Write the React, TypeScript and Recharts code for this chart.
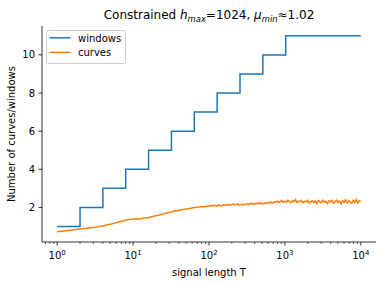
import React from "react";
import { LineChart, Line, XAxis, YAxis, Legend } from "recharts";

const T_WINDOWS = [1, 2, 4, 8, 16, 32, 64, 128, 256, 512, 1024, 10000];
const WINDOWS = [1, 2, 3, 4, 5, 6, 7, 8, 9, 10, 11, 11];

const T_CURVES = [
  1, 2, 3, 4, 5, 6, 7, 8, 9, 10, 11, 12, 13, 14, 16, 18, 20, 22, 25, 28, 31, 35, 39, 43, 48, 53, 58, 64, 70, 77, 85, 93,
  100, 105, 110, 115, 120, 126, 132, 138, 145, 151, 158, 166, 174, 182, 191, 200, 209, 219, 229, 240, 251, 263, 275, 288,
  302, 316, 331, 347, 363, 380, 398, 417, 437, 457, 479, 501, 525, 550, 575, 603, 631, 661, 692, 724, 759, 794, 832, 871,
  912, 955, 1000, 1047, 1096, 1148, 1202, 1259, 1318, 1380, 1445, 1514, 1585, 1660, 1738, 1820, 1905, 1995, 2089, 2188,
  2291, 2399, 2512, 2630, 2754, 2884, 3020, 3162, 3311, 3467, 3631, 3802, 3981, 4169, 4365, 4571, 4786, 5012, 5248, 5495,
  5754, 6026, 6310, 6607, 6918, 7244, 7586, 7943, 8318, 8710, 9120, 9550, 10000,
];
const CURVES = [
  0.72, 0.87, 0.94, 1.03, 1.12, 1.2, 1.27, 1.33, 1.36, 1.39, 1.4, 1.39, 1.42, 1.44, 1.47, 1.52, 1.56, 1.6, 1.66, 1.71, 1.75,
  1.81, 1.84, 1.88, 1.9, 1.93, 1.96, 1.99, 2.01, 2.04, 2.03, 2.06,
  2.06, 2.11, 2.07, 2.12, 2.09, 2.05, 2.13, 2.1, 2.08, 2.14, 2.1,
  2.15, 2.11, 2.17, 2.12, 2.16, 2.19, 2.13, 2.15, 2.18, 2.12,
  2.14, 2.17, 2.12, 2.16, 2.2, 2.15, 2.19, 2.22, 2.16, 2.21,
  2.18, 2.23, 2.19, 2.25, 2.2, 2.17, 2.24, 2.21, 2.27, 2.2,
  2.28, 2.23, 2.3, 2.26, 2.33, 2.25, 2.31, 2.36, 2.27, 2.33,
  2.27, 2.38, 2.3, 2.25, 2.36, 2.31, 2.4, 2.26, 2.34, 2.29,
  2.37, 2.24, 2.33, 2.28, 2.38, 2.22, 2.31, 2.35, 2.25, 2.34,
  2.21, 2.36, 2.29, 2.24, 2.38, 2.27, 2.32, 2.2, 2.35, 2.28,
  2.37, 2.22, 2.3, 2.39, 2.25, 2.33, 2.2, 2.36, 2.27, 2.4,
  2.23, 2.34, 2.28, 2.21, 2.38, 2.26, 2.41, 2.22, 2.35, 2.3,
];

const X_TICKS = [
  0.7, 0.8, 0.9, 1, 2, 3, 4, 5, 6, 7, 8, 9, 10, 20, 30, 40, 50, 60, 70, 80, 90, 100, 200, 300, 400, 500, 600, 700, 800, 900,
  1000, 2000, 3000, 4000, 5000, 6000, 7000, 8000, 9000, 10000,
];
const X_MAJOR = [1, 10, 100, 1000, 10000];
const Y_TICKS = [2, 4, 6, 8, 10];
const LEGEND_ORDER = ["windows", "curves"];

const X_DOMAIN = [Math.pow(10, -0.2), Math.pow(10, 4.2)];
const Y_DOMAIN = [0.185, 11.515];

const BLUE = "#1f77b4";
const ORANGE = "#ff7f0e";
const FONT = "DejaVu Sans";

const windowsData = T_WINDOWS.map((t, i) => ({ T: t, windows: WINDOWS[i] }));
const curvesData = T_CURVES.map((t, i) => ({ T: t, curves: CURVES[i] }));

const XTick = (props: any) => {
  const { x, y, payload } = props;
  const v = payload.value;
  const idx = X_MAJOR.indexOf(v);
  const major = idx >= 0;
  return (
    <g>
      <line x1={x} x2={x} y1={y} y2={y + (major ? 3.5 : 2)} stroke="#000" strokeWidth={major ? 0.8 : 0.6} />
      {major && (
        <text x={x} y={y + 17} textAnchor="middle" fontSize={10} fontFamily={FONT} fill="#000">
          <tspan>10</tspan>
          <tspan dy={-4} fontSize={7}>{String(idx)}</tspan>
        </text>
      )}
    </g>
  );
};

const renderLegend = (props: any) => {
  const payload = [...(props.payload || [])].sort(
    (a: any, b: any) => LEGEND_ORDER.indexOf(a.value) - LEGEND_ORDER.indexOf(b.value)
  );
  return (
    <svg width={80} height={34} style={{ display: "block" }}>
      <rect x={0.5} y={0.5} width={79} height={33} rx={2} ry={2} fill="rgba(255,255,255,0.8)" stroke="#cccccc" strokeWidth={1} />
      {payload.map((p: any, i: number) => (
        <g key={i}>
          <line x1={3.5} x2={24.5} y1={7.8 + i * 14.6} y2={7.8 + i * 14.6} stroke={p.color} strokeWidth={1.5} />
          <text x={32} y={11.6 + i * 14.8} fontSize={10} fontFamily={FONT} fill="#000">
            {p.value}
          </text>
        </g>
      ))}
    </svg>
  );
};

const YLabel = (props: any) => {
  const vb = props.viewBox || { x: 0, y: 26, width: 42, height: 216 };
  const cx = vb.x + 15;
  const cy = vb.y + vb.height / 2;
  return (
    <text x={cx} y={cy} transform={`rotate(-90 ${cx} ${cy})`} textAnchor="middle" fontSize={10} fontFamily={FONT} fill="#000">
      Number of curves/windows
    </text>
  );
};

const XLabel = (props: any) => {
  const vb = props.viewBox || { x: 42, y: 242, width: 334, height: 42 };
  return (
    <text x={vb.x + vb.width / 2} y={vb.y + 34} textAnchor="middle" fontSize={10} fontFamily={FONT} fill="#000">
      signal length T
    </text>
  );
};

export default function App() {
  return (
    <div style={{ position: "absolute", left: 0, top: 0, width: 382, height: 284, background: "#fff" }}>
      <LineChart width={382} height={284} margin={{ top: 26, right: 6, left: 0, bottom: 0 }}>
        <XAxis
          dataKey="T"
          type="number"
          scale="log"
          domain={X_DOMAIN}
          allowDataOverflow
          ticks={X_TICKS}
          interval={0}
          tick={<XTick />}
          tickLine={false}
          tickSize={0}
          tickMargin={0}
          height={42}
          axisLine={{ stroke: "#000", strokeWidth: 0.8 }}
          label={{ content: <XLabel /> }}
        />
        <XAxis
          xAxisId="top"
          orientation="top"
          type="number"
          scale="log"
          domain={X_DOMAIN}
          allowDataOverflow
          tick={false}
          tickLine={false}
          height={0}
          axisLine={{ stroke: "#000", strokeWidth: 0.8 }}
        />
        <YAxis
          type="number"
          domain={Y_DOMAIN}
          allowDataOverflow
          ticks={Y_TICKS}
          interval={0}
          width={42}
          tickSize={3.5}
          tickMargin={3.5}
          tick={{ fontSize: 10, fontFamily: FONT, fill: "#000" }}
          tickLine={{ stroke: "#000", strokeWidth: 0.8 }}
          axisLine={{ stroke: "#000", strokeWidth: 0.8 }}
          label={{ content: <YLabel /> }}
        />
        <YAxis
          yAxisId="right"
          orientation="right"
          type="number"
          domain={Y_DOMAIN}
          allowDataOverflow
          tick={false}
          tickLine={false}
          width={0}
          axisLine={{ stroke: "#000", strokeWidth: 0.8 }}
        />
        <Line
          data={windowsData}
          dataKey="windows"
          name="windows"
          type="stepAfter"
          stroke={BLUE}
          strokeWidth={1.5}
          dot={false}
          isAnimationActive={false}
        />
        <Line
          data={curvesData}
          dataKey="curves"
          name="curves"
          type="linear"
          stroke={ORANGE}
          strokeWidth={1.5}
          dot={false}
          isAnimationActive={false}
        />
        <Legend
          layout="vertical"
          align="center"
          verticalAlign="middle"
          content={renderLegend}
          wrapperStyle={{ left: 46, top: 30, width: 80, height: 34 }}
        />
        <text x={209} y={19} textAnchor="middle" fontSize={12} fontFamily={FONT} fill="#000">
          <tspan>Constrained </tspan>
          <tspan fontStyle="italic">h</tspan>
          <tspan fontStyle="italic" fontSize={8.4} dy={2.5}>max</tspan>
          <tspan dy={-2.5}>=1024, </tspan>
          <tspan fontStyle="italic">μ</tspan>
          <tspan fontStyle="italic" fontSize={8.4} dy={2.5}>min</tspan>
          <tspan dy={-2.5}>≈1.02</tspan>
        </text>
      </LineChart>
    </div>
  );
}
